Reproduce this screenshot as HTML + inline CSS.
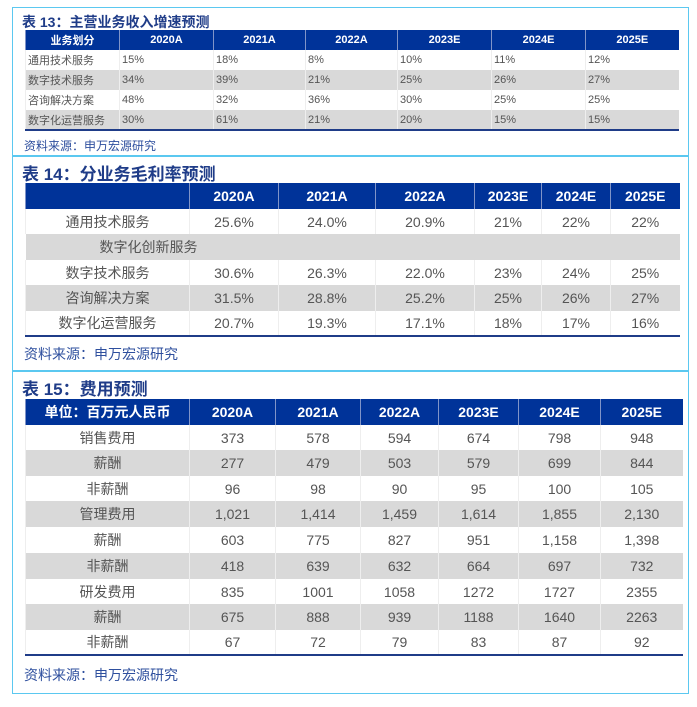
<!DOCTYPE html>
<html><head><meta charset="utf-8">
<style>
body{margin:0;width:697px;height:707px;background:#fff;position:relative;overflow:hidden;font-family:"Liberation Sans","Noto Sans CJK SC",sans-serif;}
.frame{position:absolute;left:12px;top:7px;width:675px;height:685px;border:1px solid #5bc8f0;}
.sep{position:absolute;left:12px;width:677px;height:0;border-top:2px solid #5bc8f0;}
.title{position:absolute;left:22px;color:#1f3c88;font-weight:bold;white-space:nowrap;}
.src{position:absolute;left:24px;color:#2e4f9e;white-space:nowrap;}
table{position:absolute;border-collapse:collapse;table-layout:fixed;}
td,th{padding:0;overflow:hidden;white-space:nowrap;border-left:1px solid #eee;}
th{background:#003399;color:#fff;font-weight:bold;text-align:center;border-left:1px solid #8094c8;}
td{color:#555;}
tr.g td{background:#d9d9d9;}
table.t13 td{text-align:left;padding-left:2px;font-size:11px;}
table.t13 th{font-size:11px;}
table.big td{text-align:center;font-size:14px;}
table.big th{font-size:14px;}
.bottom{border-bottom:2px solid #1f3c88;}
</style></head><body>
<div class="frame"></div>

<div class="title" style="top:12px;font-size:14px;">表 13：主营业务收入增速预测</div>
<table class="t13 bottom" style="left:25px;top:30px;width:653px;">
<colgroup><col style="width:94px"><col style="width:94px"><col style="width:92px"><col style="width:92px"><col style="width:94px"><col style="width:94px"><col style="width:93px"></colgroup>
<tr style="height:20px"><th>业务划分</th><th>2020A</th><th>2021A</th><th>2022A</th><th>2023E</th><th>2024E</th><th>2025E</th></tr>
<tr style="height:20px"><td>通用技术服务</td><td>15%</td><td>18%</td><td>8%</td><td>10%</td><td>11%</td><td>12%</td></tr>
<tr class="g" style="height:20px"><td>数字技术服务</td><td>34%</td><td>39%</td><td>21%</td><td>25%</td><td>26%</td><td>27%</td></tr>
<tr style="height:20px"><td>咨询解决方案</td><td>48%</td><td>32%</td><td>36%</td><td>30%</td><td>25%</td><td>25%</td></tr>
<tr class="g" style="height:20px"><td>数字化运营服务</td><td>30%</td><td>61%</td><td>21%</td><td>20%</td><td>15%</td><td>15%</td></tr>
</table>
<div class="src" style="top:137px;font-size:12px;">资料来源：申万宏源研究</div>
<div class="sep" style="top:155px"></div>

<div class="title" style="top:160px;font-size:17px;">表 14：分业务毛利率预测</div>
<table class="big bottom" style="left:25px;top:183px;width:654px;">
<colgroup><col style="width:164px"><col style="width:89px"><col style="width:97px"><col style="width:99px"><col style="width:67px"><col style="width:69px"><col style="width:69px"></colgroup>
<tr style="height:26px"><th></th><th>2020A</th><th>2021A</th><th>2022A</th><th>2023E</th><th>2024E</th><th>2025E</th></tr>
<tr style="height:25px"><td>通用技术服务</td><td>25.6%</td><td>24.0%</td><td>20.9%</td><td>21%</td><td>22%</td><td>22%</td></tr>
<tr class="g" style="height:26px"><td colspan="7" style="border:none;text-align:left;padding-left:74px">数字化创新服务</td></tr>
<tr style="height:25px"><td>数字技术服务</td><td>30.6%</td><td>26.3%</td><td>22.0%</td><td>23%</td><td>24%</td><td>25%</td></tr>
<tr class="g" style="height:26px"><td>咨询解决方案</td><td>31.5%</td><td>28.8%</td><td>25.2%</td><td>25%</td><td>26%</td><td>27%</td></tr>
<tr style="height:25px"><td>数字化运营服务</td><td>20.7%</td><td>19.3%</td><td>17.1%</td><td>18%</td><td>17%</td><td>16%</td></tr>
</table>
<div class="src" style="top:344px;font-size:14px;">资料来源：申万宏源研究</div>
<div class="sep" style="top:370px"></div>

<div class="title" style="top:375px;font-size:17px;">表 15：费用预测</div>
<table class="big bottom" style="left:25px;top:399px;width:657px;">
<colgroup><col style="width:164px"><col style="width:86px"><col style="width:85px"><col style="width:78px"><col style="width:80px"><col style="width:82px"><col style="width:82px"></colgroup>
<tr style="height:26px"><th>单位：百万元人民币</th><th>2020A</th><th>2021A</th><th>2022A</th><th>2023E</th><th>2024E</th><th>2025E</th></tr>
<tr style="height:25px"><td>销售费用</td><td>373</td><td>578</td><td>594</td><td>674</td><td>798</td><td>948</td></tr>
<tr class="g" style="height:26px"><td>薪酬</td><td>277</td><td>479</td><td>503</td><td>579</td><td>699</td><td>844</td></tr>
<tr style="height:25px"><td>非薪酬</td><td>96</td><td>98</td><td>90</td><td>95</td><td>100</td><td>105</td></tr>
<tr class="g" style="height:26px"><td>管理费用</td><td>1,021</td><td>1,414</td><td>1,459</td><td>1,614</td><td>1,855</td><td>2,130</td></tr>
<tr style="height:26px"><td>薪酬</td><td>603</td><td>775</td><td>827</td><td>951</td><td>1,158</td><td>1,398</td></tr>
<tr class="g" style="height:26px"><td>非薪酬</td><td>418</td><td>639</td><td>632</td><td>664</td><td>697</td><td>732</td></tr>
<tr style="height:25px"><td>研发费用</td><td>835</td><td>1001</td><td>1058</td><td>1272</td><td>1727</td><td>2355</td></tr>
<tr class="g" style="height:26px"><td>薪酬</td><td>675</td><td>888</td><td>939</td><td>1188</td><td>1640</td><td>2263</td></tr>
<tr style="height:25px"><td>非薪酬</td><td>67</td><td>72</td><td>79</td><td>83</td><td>87</td><td>92</td></tr>
</table>
<div class="src" style="top:665px;font-size:14px;">资料来源：申万宏源研究</div>
</body></html>
